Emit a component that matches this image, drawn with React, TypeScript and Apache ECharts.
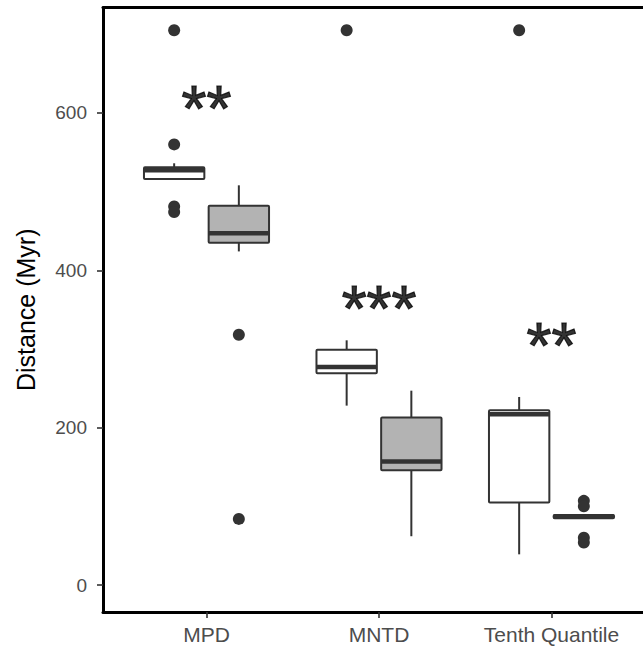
import React, { useEffect, useRef } from 'react';
import * as echarts from 'echarts';

const categories = ['MPD', 'MNTD', 'Tenth Quantile'];
// five-number summaries: [lower whisker, Q1, median, Q3, upper whisker]
const whiteStats = [
  [516, 516, 527, 531, 536],
  [228, 269, 277, 299, 311],
  [39, 105, 217, 222, 239],
];
const greyStats = [
  [424, 435, 447, 482, 508],
  [62, 146, 157, 213, 247],
  [85, 85, 87, 89, 89],
];
const whiteOutliers = [[705, 560, 481, 474], [705], [705]];
const greyOutliers = [[318, 84], [], [107, 100, 60, 54]];
const sigLabels = ['**', '***', '**'];
const sigValues = [605, 351, 304];
const yTicks = [0, 200, 400, 600];
const xTicks = [1, 2, 3];

const FONT = '"Liberation Sans", Arial, Helvetica, sans-serif';
const DODGE = 0.1875;
const BOX_W = 0.35;
const BOX_STROKE = '#333333';

function boxItems(stats: number[][], offset: number) {
  return stats.map((s, i) => [i + 1 + offset, ...s]);
}
function outlierItems(out: number[][], offset: number) {
  const r: number[][] = [];
  out.forEach((vals, i) => vals.forEach((v) => r.push([i + 1 + offset, v])));
  return r;
}

function makeBoxSeries(stats: number[][], offset: number, fill: string) {
  return {
    type: 'custom',
    data: boxItems(stats, offset),
    encode: { x: 0, y: [1, 2, 3, 4, 5] },
    silent: true,
    renderItem: (params: any, api: any) => {
      const x = api.value(0);
      const lo = api.value(1);
      const q1 = api.value(2);
      const med = api.value(3);
      const q3 = api.value(4);
      const hi = api.value(5);
      const half = BOX_W / 2;
      const tl = api.coord([x - half, q3]);
      const br = api.coord([x + half, q1]);
      const cHi = api.coord([x, hi]);
      const cLo = api.coord([x, lo]);
      const mL = api.coord([x - half, med]);
      const mR = api.coord([x + half, med]);
      const cx = api.coord([x, q3])[0];
      const lineStyle = { stroke: BOX_STROKE, lineWidth: 2 };
      return {
        type: 'group',
        children: [
          { type: 'line', shape: { x1: cx, y1: cHi[1], x2: cx, y2: tl[1] }, style: lineStyle },
          { type: 'line', shape: { x1: cx, y1: br[1], x2: cx, y2: cLo[1] }, style: lineStyle },
          {
            type: 'rect',
            shape: { x: tl[0], y: tl[1], width: br[0] - tl[0], height: br[1] - tl[1], r: 1 },
            style: { fill, stroke: BOX_STROKE, lineWidth: 2 },
          },
          {
            type: 'line',
            shape: { x1: mL[0], y1: mL[1], x2: mR[0], y2: mR[1] },
            style: { stroke: BOX_STROKE, lineWidth: 4.5 },
          },
        ],
      };
    },
  };
}

export default function App() {
  const ref = useRef<HTMLDivElement>(null);
  useEffect(() => {
    document.body.style.margin = '0';
    const chart = echarts.init(ref.current!, undefined, { renderer: 'svg' });
    const option: any = {
      animation: false,
      backgroundColor: '#ffffff',
      textStyle: { fontFamily: FONT },
      grid: {
        left: 103,
        right: -12,
        top: 7.5,
        bottom: 37,
        containLabel: false,
        outerBoundsMode: 'none',
      },
      xAxis: [
        {
          type: 'value',
          min: 0.4,
          max: 3.6,
          position: 'bottom',
          axisLine: { show: true, onZero: false, lineStyle: { color: '#000000', width: 3 } },
          axisTick: { show: true, customValues: xTicks, length: 6, lineStyle: { color: '#333333', width: 1.6 } },
          axisLabel: {
            customValues: xTicks,
            formatter: (v: number) => categories[Math.round(v) - 1] ?? '',
            color: '#4d4d4d',
            fontSize: 21,
            fontFamily: FONT,
            margin: 12,
          },
          splitLine: { show: false },
        },
        {
          type: 'value',
          min: 0.4,
          max: 3.6,
          position: 'top',
          axisLine: { show: true, onZero: false, lineStyle: { color: '#000000', width: 3 } },
          axisTick: { show: false },
          axisLabel: { show: false },
          splitLine: { show: false },
        },
      ],
      yAxis: {
        type: 'value',
        min: -34.3,
        max: 734,
        name: 'Distance (Myr)',
        nameLocation: 'middle',
        nameGap: 65,
        nameTextStyle: { fontSize: 25, color: '#000000', fontFamily: FONT },
        axisLine: { show: true, onZero: false, lineStyle: { color: '#000000', width: 3 } },
        axisTick: { show: true, customValues: yTicks, length: 6, lineStyle: { color: '#333333', width: 1.6 } },
        axisLabel: {
          customValues: yTicks,
          color: '#4d4d4d',
          fontSize: 19,
          fontFamily: FONT,
          margin: 16,
        },
        splitLine: { show: false },
      },
      series: [
        makeBoxSeries(whiteStats, -DODGE, '#ffffff'),
        makeBoxSeries(greyStats, DODGE, '#b3b3b3'),
        {
          type: 'scatter',
          data: outlierItems(whiteOutliers, -DODGE),
          symbolSize: 12,
          itemStyle: { color: '#333333', opacity: 1 },
          silent: true,
        },
        {
          type: 'scatter',
          data: outlierItems(greyOutliers, DODGE),
          symbolSize: 12,
          itemStyle: { color: '#333333', opacity: 1 },
          silent: true,
        },
        {
          type: 'scatter',
          data: sigLabels.map((s, i) => ({ name: s, value: [i + 1, sigValues[i]] })),
          symbolSize: 0,
          itemStyle: { color: 'transparent' },
          silent: true,
          label: {
            show: true,
            position: 'inside',
            formatter: '{b}',
            fontSize: 64,
            color: '#000000',
            textBorderColor: '#000000',
            textBorderWidth: 1.2,
            fontFamily: FONT,
          },
        },
      ],
    };
    chart.setOption(option);
    return () => chart.dispose();
  }, []);
  return <div ref={ref} style={{ width: 643, height: 649 }} />;
}
